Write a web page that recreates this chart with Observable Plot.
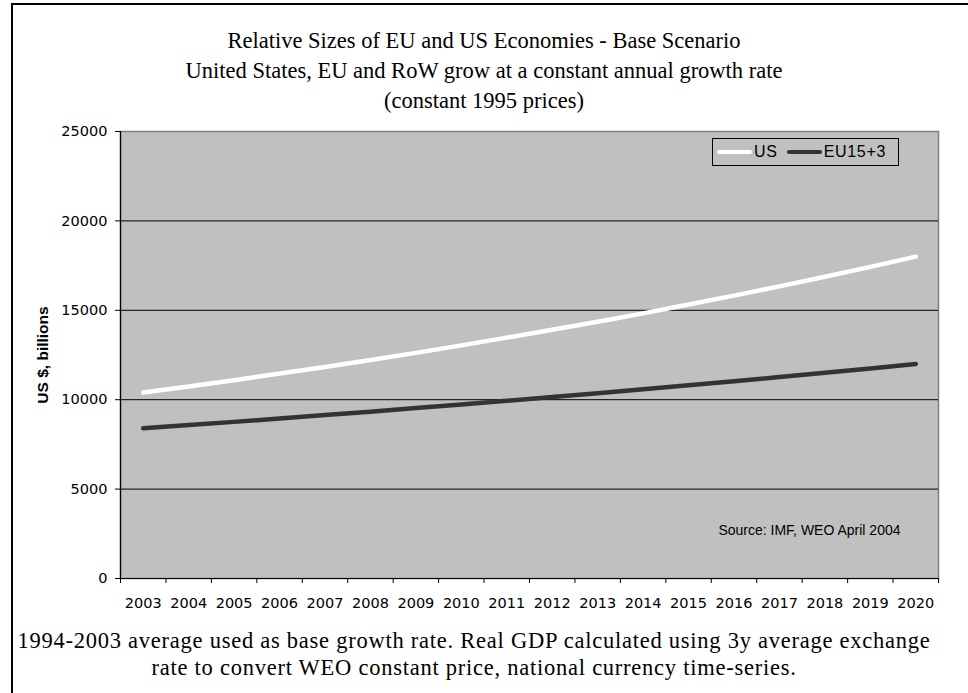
<!DOCTYPE html>
<html>
<head>
<meta charset="utf-8">
<script src="https://cdn.jsdelivr.net/npm/d3@7"></script>
<script src="https://cdn.jsdelivr.net/npm/@observablehq/plot@0.6"></script>
<style>
  html, body { margin: 0; padding: 0; background: #fff; }
  #page { position: relative; width: 968px; height: 693px; overflow: hidden; background: #fff; }
  #border { position: absolute; left: 11px; top: 3px; width: 1000px; height: 720px; border-left: 2px solid #000; border-top: 2px solid #000; }
  .serif { font-family: "Liberation Serif", "DejaVu Serif", serif; color: #000; text-align: center; position: absolute; left: 0; width: 968px; }
  #title { top: 26px; font-size: 22.5px; line-height: 30px; }
  #footer { top: 627px; left: -10px; font-size: 22.5px; line-height: 27px; letter-spacing: 0.75px; }
  #chart { position: absolute; left: 0; top: 110px; }
  #legend { position: absolute; left: 712px; top: 138px; width: 185px; height: 26px; border: 1px solid #000; background: #c0c0c0;
            font-family: "Liberation Sans", Arial, sans-serif; font-size: 16px; letter-spacing: 0.7px; display: flex; align-items: center; }
  .sw { display: inline-block; width: 35px; height: 4px; border-radius: 2px; margin-left: 4px; margin-right: 2px; }
</style>
</head>
<body>
<div id="page">
  <div id="border"></div>
  <div id="title" class="serif"></div>
  <div id="chart"></div>
  <div id="legend"></div>
  <div id="footer" class="serif"></div>
</div>
<script>
const titleLines = [
  "Relative Sizes of EU and US Economies - Base Scenario",
  "United States, EU and RoW grow at a constant annual growth rate",
  "(constant 1995 prices)"
];
const footerLines = [
  "1994-2003 average used as base growth rate. Real GDP calculated using 3y average exchange",
  "rate to convert WEO constant price, national currency time-series."
];
const years = [2003, 2004, 2005, 2006, 2007, 2008, 2009, 2010, 2011, 2012, 2013, 2014, 2015, 2016, 2017, 2018, 2019, 2020];
const us = [10400, 10740, 11090, 11460, 11830, 12220, 12620, 13040, 13470, 13910, 14360, 14830, 15320, 15820, 16340, 16880, 17430, 18000];
const eu = [8400, 8580, 8760, 8950, 9140, 9330, 9530, 9730, 9940, 10150, 10360, 10580, 10810, 11030, 11270, 11510, 11750, 12000];
const yTicks = [0, 5000, 10000, 15000, 20000, 25000];
const seriesNames = ["US", "EU15+3"];
const seriesColors = ["#ffffff", "#333333"];
const yLabel = "US $, billions";
const sourceNote = "Source: IMF, WEO April 2004";

document.getElementById("title").innerHTML = titleLines.join("<br>");
document.getElementById("footer").innerHTML = footerLines.join("<br>");

const table = years.map((y, i) => ({year: y, us: us[i], eu: eu[i]}));
const edges = [years[0] - 0.5, ...years.map(y => y + 0.5)];
const tickFont = "'DejaVu Sans', Verdana, sans-serif";

const chart = Plot.plot({
  width: 968,
  height: 510,
  marginLeft: 120,
  marginRight: 30,
  marginTop: 21,
  marginBottom: 42,
  style: {fontFamily: "'Liberation Sans', Arial, sans-serif", fontSize: "15px", background: "transparent", color: "#000", overflow: "visible"},
  x: {domain: [edges[0], edges[edges.length - 1]], axis: null},
  y: {domain: [0, 25000], axis: null},
  marks: [
    Plot.frame({fill: "#c0c0c0", stroke: "#808080", strokeWidth: 1.5}),
    Plot.gridY(yTicks.filter(t => t > 0 && t < 25000), {stroke: "#000", strokeOpacity: 1, strokeWidth: 1}),
    Plot.line(table, {x: "year", y: "us", stroke: seriesColors[0], strokeWidth: 4.5, strokeLinecap: "round"}),
    Plot.line(table, {x: "year", y: "eu", stroke: seriesColors[1], strokeWidth: 4.5, strokeLinecap: "round"}),
    Plot.ruleX([edges[0]], {stroke: "#000", strokeWidth: 1.2}),
    Plot.ruleY([0], {stroke: "#000", strokeWidth: 1.2}),
    Plot.axisY({ticks: yTicks, tickSize: 5, tickFormat: () => "", label: null, stroke: "#000"}),
    Plot.axisX({ticks: edges, tickSize: 5, tickFormat: () => "", label: null, stroke: "#000"}),
    Plot.text(yTicks, {y: d => d, text: d => String(d), frameAnchor: "left", dx: -13, textAnchor: "end", lineAnchor: "middle", fontFamily: tickFont, fontSize: 14.5}),
    Plot.text(years, {x: d => d, text: d => String(d), frameAnchor: "bottom", dy: 24.5, textAnchor: "middle", lineAnchor: "middle", fontFamily: tickFont, fontSize: 14.5}),
    Plot.text([yLabel], {frameAnchor: "left", dx: -77, rotate: -90, textAnchor: "middle", fontWeight: "bold", fontSize: 15.5}),
    Plot.text([sourceNote], {frameAnchor: "bottom-right", dx: -38, dy: -48, textAnchor: "end", lineAnchor: "middle", fontSize: 14})
  ]
});
document.getElementById("chart").appendChild(chart);

const legend = document.getElementById("legend");
seriesNames.forEach((name, i) => {
  const sw = document.createElement("span");
  sw.className = "sw";
  sw.style.background = seriesColors[i];
  legend.appendChild(sw);
  const t = document.createElement("span");
  t.textContent = name;
  t.style.marginRight = "5px";
  legend.appendChild(t);
});
</script>
</body>
</html>
